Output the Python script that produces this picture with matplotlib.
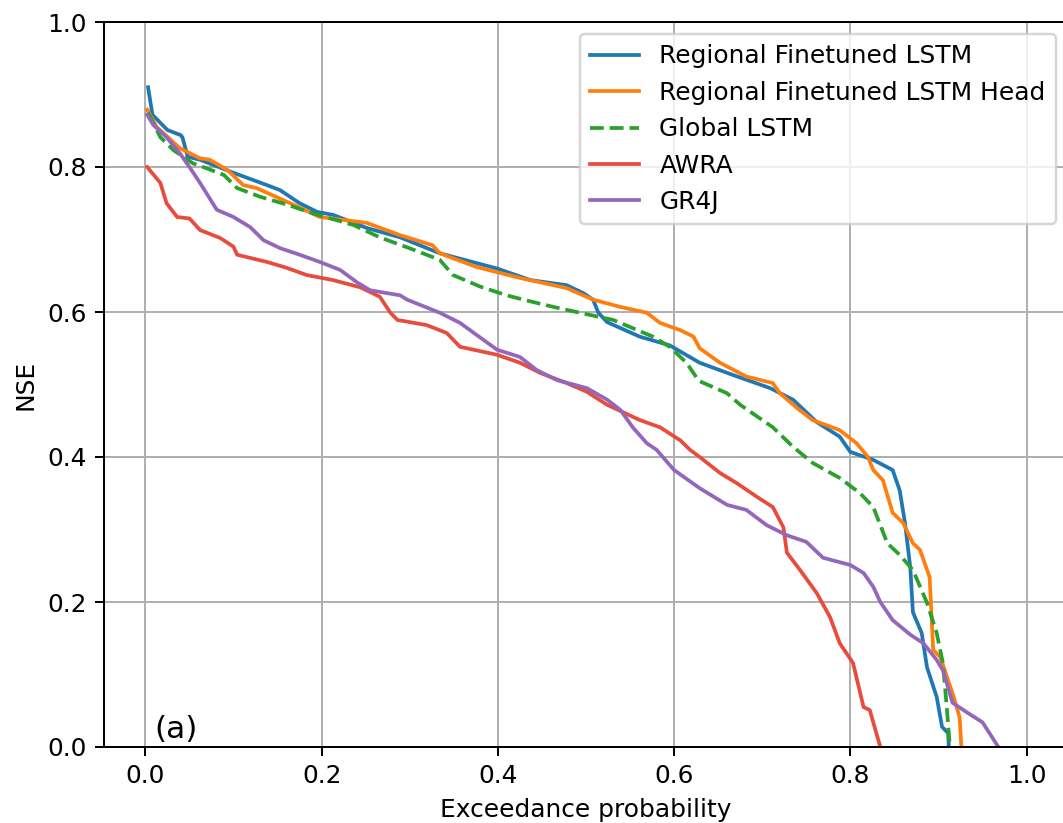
import matplotlib
matplotlib.use("Agg")
import matplotlib.pyplot as plt

# ---- data ----
blue_x = [0.003, 0.008, 0.025, 0.040, 0.042, 0.048, 0.062, 0.100, 0.138, 0.153, 0.175, 0.195,
          0.213, 0.251, 0.289, 0.334, 0.399, 0.437, 0.478, 0.497, 0.508, 0.514, 0.524, 0.561,
          0.595, 0.629, 0.667, 0.709, 0.735, 0.762, 0.788, 0.800, 0.826, 0.848, 0.856, 0.862,
          0.868, 0.871, 0.881, 0.887, 0.898, 0.904, 0.911, 0.913, 0.916]
blue_y = [0.910, 0.872, 0.851, 0.844, 0.841, 0.814, 0.810, 0.792, 0.775, 0.768, 0.750, 0.738,
          0.734, 0.716, 0.703, 0.681, 0.660, 0.644, 0.637, 0.626, 0.617, 0.599, 0.586, 0.566,
          0.554, 0.530, 0.513, 0.495, 0.479, 0.448, 0.428, 0.407, 0.396, 0.382, 0.354, 0.309,
          0.248, 0.186, 0.157, 0.110, 0.069, 0.028, 0.019, -0.030, -0.100]

orange_x = [0.002, 0.013, 0.039, 0.062, 0.073, 0.093, 0.111, 0.126, 0.168, 0.198, 0.251, 0.289,
            0.326, 0.334, 0.376, 0.425, 0.478, 0.508, 0.539, 0.569, 0.584, 0.607, 0.622, 0.629,
            0.652, 0.682, 0.712, 0.720, 0.739, 0.757, 0.788, 0.807, 0.820, 0.826, 0.837, 0.848,
            0.860, 0.871, 0.879, 0.890, 0.894, 0.902, 0.916, 0.924, 0.926, 0.930]
orange_y = [0.879, 0.855, 0.826, 0.812, 0.810, 0.796, 0.775, 0.771, 0.748, 0.731, 0.723, 0.706,
            0.692, 0.681, 0.662, 0.647, 0.633, 0.617, 0.607, 0.599, 0.585, 0.575, 0.566, 0.550,
            0.530, 0.511, 0.502, 0.488, 0.468, 0.451, 0.437, 0.419, 0.400, 0.382, 0.368, 0.323,
            0.309, 0.281, 0.272, 0.234, 0.134, 0.124, 0.074, 0.041, 0.000, -0.100]

green_x = [0.003, 0.017, 0.032, 0.054, 0.070, 0.089, 0.104, 0.130, 0.161, 0.190, 0.236, 0.266,
           0.304, 0.334, 0.349, 0.380, 0.410, 0.429, 0.463, 0.493, 0.531, 0.576, 0.595, 0.614,
           0.628, 0.660, 0.675, 0.712, 0.735, 0.757, 0.788, 0.811, 0.826, 0.842, 0.856, 0.871,
           0.887, 0.898, 0.905, 0.909, 0.913, 0.916]
green_y = [0.875, 0.841, 0.823, 0.805, 0.798, 0.789, 0.771, 0.759, 0.748, 0.736, 0.720, 0.703,
           0.686, 0.672, 0.651, 0.635, 0.623, 0.617, 0.607, 0.599, 0.589, 0.566, 0.552, 0.530,
           0.505, 0.488, 0.472, 0.441, 0.414, 0.392, 0.371, 0.350, 0.331, 0.281, 0.265, 0.244,
           0.199, 0.157, 0.116, 0.061, 0.000, -0.100]

red_x = [0.002, 0.017, 0.024, 0.036, 0.050, 0.062, 0.085, 0.100, 0.104, 0.138, 0.160, 0.183,
         0.213, 0.244, 0.266, 0.278, 0.286, 0.319, 0.342, 0.357, 0.399, 0.425, 0.448, 0.478,
         0.501, 0.524, 0.561, 0.584, 0.607, 0.618, 0.629, 0.652, 0.671, 0.694, 0.712, 0.724,
         0.728, 0.743, 0.762, 0.777, 0.788, 0.803, 0.815, 0.822, 0.834, 0.840]
red_y = [0.800, 0.778, 0.750, 0.731, 0.729, 0.713, 0.702, 0.690, 0.679, 0.669, 0.661, 0.651,
         0.644, 0.634, 0.621, 0.599, 0.589, 0.582, 0.571, 0.552, 0.541, 0.530, 0.516, 0.502,
         0.490, 0.472, 0.451, 0.441, 0.423, 0.410, 0.400, 0.378, 0.364, 0.345, 0.331, 0.303,
         0.268, 0.244, 0.212, 0.179, 0.143, 0.116, 0.055, 0.051, 0.000, -0.050]

purple_x = [0.002, 0.009, 0.024, 0.039, 0.050, 0.062, 0.081, 0.100, 0.119, 0.134, 0.153, 0.175,
            0.198, 0.221, 0.240, 0.255, 0.289, 0.297, 0.334, 0.357, 0.399, 0.425, 0.444, 0.467,
            0.501, 0.524, 0.539, 0.553, 0.569, 0.580, 0.600, 0.629, 0.660, 0.682, 0.705, 0.728,
            0.750, 0.769, 0.800, 0.815, 0.826, 0.834, 0.848, 0.868, 0.883, 0.898, 0.905, 0.916,
            0.932, 0.950, 0.968, 0.980]
purple_y = [0.872, 0.858, 0.841, 0.819, 0.800, 0.778, 0.741, 0.731, 0.717, 0.699, 0.688, 0.679,
            0.669, 0.658, 0.641, 0.630, 0.623, 0.617, 0.599, 0.585, 0.548, 0.538, 0.520, 0.506,
            0.495, 0.479, 0.465, 0.441, 0.419, 0.410, 0.382, 0.357, 0.334, 0.327, 0.306, 0.292,
            0.283, 0.261, 0.251, 0.240, 0.221, 0.200, 0.175, 0.155, 0.143, 0.120, 0.106, 0.061,
            0.048, 0.034, 0.000, -0.040]

labels = ["Regional Finetuned LSTM", "Regional Finetuned LSTM Head", "Global LSTM", "AWRA", "GR4J"]
x_ticks = [0.0, 0.2, 0.4, 0.6, 0.8, 1.0]
y_ticks = [0.0, 0.2, 0.4, 0.6, 0.8, 1.0]

DPI = 179
fig = plt.figure(figsize=(1063 / DPI, 823 / DPI), dpi=DPI)
ax = fig.add_axes([104 / 1063, 76 / 823, 964 / 1063, 725 / 823])

ax.plot(blue_x, blue_y, color="#1f77b4", label=labels[0])
ax.plot(orange_x, orange_y, color="#ff7f0e", label=labels[1])
ax.plot(green_x, green_y, color="#2ca02c", linestyle="--", label=labels[2])
ax.plot(red_x, red_y, color="#e74c3c", label=labels[3])
ax.plot(purple_x, purple_y, color="#9467bd", label=labels[4])

ax.set_xlim(-0.047, 1.047)
ax.set_ylim(0.0, 1.0)
ax.set_xticks(x_ticks)
ax.set_yticks(y_ticks)
ax.grid(True)
ax.set_xlabel("Exceedance probability")
ax.set_ylabel("NSE")
ax.text(0.052, 0.013, "(a)", transform=ax.transAxes, fontsize=12.5)
ax.legend(loc="upper right")

fig.savefig("out.png", dpi=DPI)
